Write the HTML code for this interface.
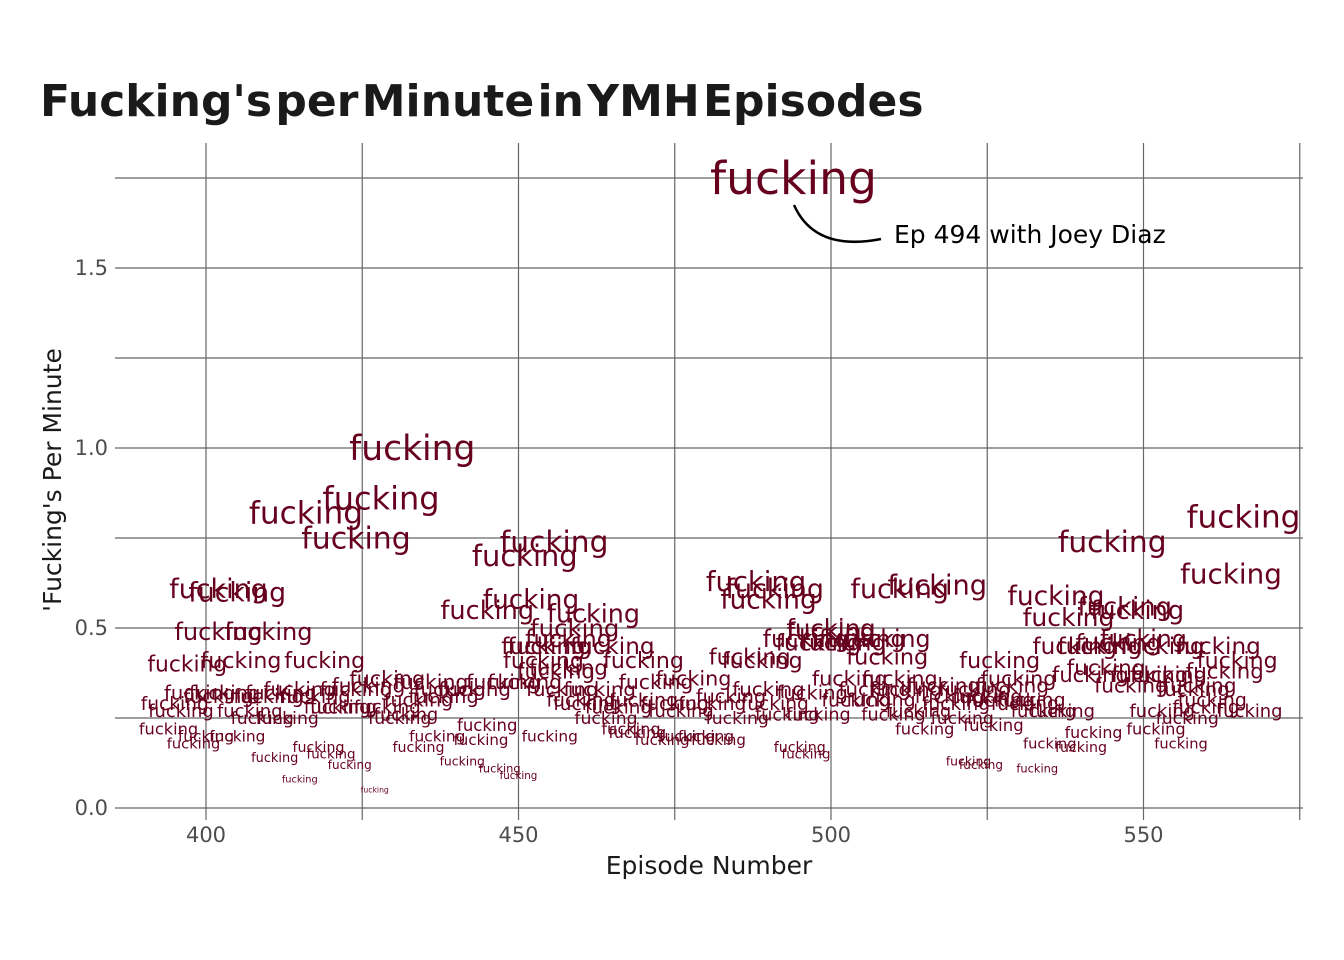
<!DOCTYPE html>
<html><head><meta charset="utf-8"><style>
html,body{margin:0;padding:0;background:#fff;}
svg{display:block;font-family:"DejaVu Sans","Liberation Sans",sans-serif;}
</style></head><body>
<svg id="chart" width="1344" height="960">
<text x="40" y="116" font-size="44" font-weight="bold" fill="#1a1a1a" word-spacing="-12">Fucking's per Minute in YMH Episodes</text>
<g id="grid"></g>
<g id="marks"></g>
<g id="axes"></g>
<path d="M794,205 Q815,252 881,239" fill="none" stroke="#000" stroke-width="2.5"/>
<text x="894" y="243" font-size="25" fill="#000">Ep 494 with Joey Diaz</text>
<text x="709" y="874" font-size="25" fill="#1a1a1a" text-anchor="middle">Episode Number</text>
<text transform="translate(61,480) rotate(-90)" font-size="25" fill="#1a1a1a" text-anchor="middle">'Fucking's Per Minute</text>
</svg>
<script>
const episodes=[494,433,428,416,424,455.7,451,402,405,452,445,462,459,488,491,490,511,517,500,566,545,564,536,547,538,549,402,410,397,405.6,419,455,458,465,454,470,487,489,500,509,505,509,527,543,550,562,565,553,
399,395,396,394,398,400,405,402,410,409,413,411,415,427,418,420,423,415,417.5,422,424,429,429,431,434,436,439,443,434,437,441,445,444,447,450,447.6,451,455,458,457,463,461,464,468,473,477,482,470,475,478,481,485,490,491,495,496,498,503,508,511,510,515,519,521,526,527,532,522,524,533,530,534,537,535,540,542,541.5,548,551,559,563,552,556,557,560,567,553,
496,498,502,504,507,493,497,466,469,472,476,480,484,454,456,460,438,432,426,421,412,407,403,512,514,518,520,523,525,529,531,539,544,546,554,558,561];
const values=[1.75,1.00,0.86,0.82,0.75,0.74,0.70,0.61,0.60,0.58,0.55,0.54,0.50,0.63,0.61,0.58,0.61,0.62,0.50,0.81,0.74,0.65,0.59,0.56,0.53,0.55,0.49,0.49,0.40,0.41,0.41,0.45,0.47,0.45,0.41,0.41,0.42,0.41,0.49,0.47,0.47,0.42,0.41,0.45,0.47,0.45,0.41,0.45,
0.32,0.29,0.27,0.22,0.18,0.20,0.20,0.31,0.31,0.25,0.25,0.14,0.08,0.05,0.17,0.15,0.12,0.33,0.31,0.28,0.33,0.36,0.28,0.25,0.30,0.35,0.33,0.33,0.17,0.20,0.13,0.23,0.19,0.11,0.09,0.35,0.35,0.20,0.39,0.33,0.33,0.29,0.25,0.22,0.19,0.20,0.19,0.30,0.29,0.36,0.29,0.25,0.33,0.29,0.17,0.15,0.26,0.36,0.30,0.36,0.26,0.22,0.31,0.25,0.23,0.30,0.30,0.13,0.12,0.11,0.36,0.27,0.27,0.18,0.17,0.21,0.37,0.34,0.37,0.34,0.38,0.22,0.18,0.25,0.28,0.27,0.27,
0.47,0.46,0.46,0.30,0.33,0.26,0.32,0.28,0.21,0.35,0.27,0.20,0.31,0.45,0.38,0.30,0.31,0.26,0.34,0.28,0.32,0.27,0.32,0.33,0.27,0.34,0.29,0.33,0.31,0.34,0.29,0.45,0.39,0.46,0.37,0.33,0.30];
const xTicks=[400,450,500,550];
const yTicks=[0,0.5,1.0,1.5];
const yLabels=["0.0","0.5","1.0","1.5"];
const X=e=>206+(e-400)*6.25;
const Y=v=>808-v*360;
const NS="http://www.w3.org/2000/svg";
const grid=document.getElementById('grid'),marks=document.getElementById('marks'),axes=document.getElementById('axes');
function ln(p,x1,y1,x2,y2,name){const l=document.createElementNS(NS,'line');l.setAttribute('x1',x1);l.setAttribute('y1',y1);l.setAttribute('x2',x2);l.setAttribute('y2',y2);l.setAttribute('stroke','#666');l.setAttribute('stroke-width','1.2');


p.appendChild(l);}
for(let e=400;e<=575;e+=25){ln(grid,X(e),143,X(e),820,'x-gridline');}
for(let v=0;v<=1.75;v+=0.25){ln(grid,115,Y(v),1303,Y(v),'y-gridline');}
xTicks.forEach(t=>{const s=document.createElementNS(NS,'text');s.setAttribute('x',X(t));s.setAttribute('y',842);s.setAttribute('font-size','21');s.setAttribute('fill','#4d4d4d');s.setAttribute('text-anchor','middle');s.textContent=t;


axes.appendChild(s);});
yTicks.forEach((t,i)=>{const s=document.createElementNS(NS,'text');s.setAttribute('x',108);s.setAttribute('y',Y(t)+7);s.setAttribute('font-size','21');s.setAttribute('fill','#4d4d4d');s.setAttribute('text-anchor','end');s.textContent=yLabels[i];


axes.appendChild(s);});
episodes.forEach((e,i)=>{const v=values[i];const s=document.createElementNS(NS,'text');const fs=34.5*Math.sqrt(v);
s.setAttribute('x',X(e));s.setAttribute('y',Y(v)+fs*0.35);s.setAttribute('font-size',fs.toFixed(1));s.setAttribute('fill','#67001f');s.setAttribute('text-anchor','middle');s.textContent='fucking';


marks.appendChild(s);});
</script>
</body></html>
